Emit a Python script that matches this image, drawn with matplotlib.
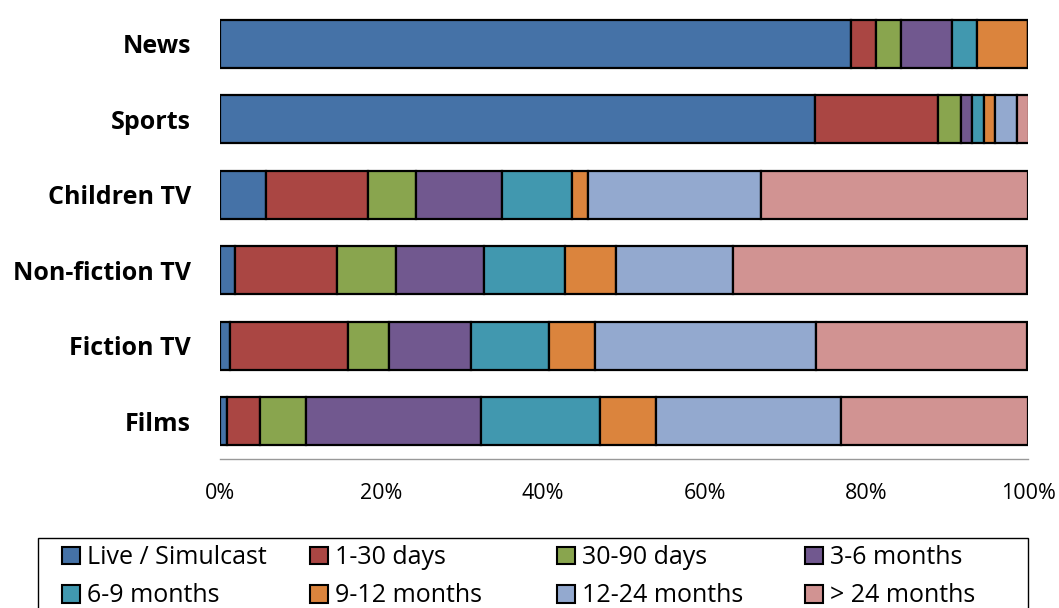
import numpy as np
import matplotlib
matplotlib.use("Agg")
import matplotlib.pyplot as plt
from matplotlib.patches import Patch, Rectangle

plt.rcParams['font.family'] = ['Open Sans', 'DejaVu Sans']

categories = ["News", "Sports", "Children TV", "Non-fiction TV", "Fiction TV", "Films"]

live = [78.1, 73.6, 5.7, 1.8, 1.2, 0.9]
d1_30 = [3.1, 15.3, 12.6, 12.7, 14.7, 4.1]
d30_90 = [3.1, 2.8, 5.9, 7.3, 5.0, 5.6]
m3_6 = [6.3, 1.4, 10.7, 10.9, 10.2, 21.7]
m6_9 = [3.1, 1.4, 8.7, 10.0, 9.6, 14.7]
m9_12 = [6.3, 1.4, 2.0, 6.3, 5.7, 7.0]
m12_24 = [0.0, 2.8, 21.4, 14.5, 27.4, 22.8]
m24 = [0.0, 1.4, 33.0, 36.4, 26.1, 23.2]

series = [live, d1_30, d30_90, m3_6, m6_9, m9_12, m12_24, m24]
labels = ["Live / Simulcast", "1-30 days", "30-90 days", "3-6 months",
          "6-9 months", "9-12 months", "12-24 months", "> 24 months"]
colors = ["#4572A7", "#AA4643", "#89A54E", "#71588F",
          "#4198AF", "#DB843D", "#93A9CF", "#D19392"]

W, H = 1059, 608
fig = plt.figure(figsize=(W / 100, H / 100), dpi=100)
ax = fig.add_axes([220 / W, 1 - 459 / H, 808 / W, 453 / H])

y = np.arange(len(categories))
left = np.zeros(len(categories))
for vals, c in zip(series, colors):
    ax.barh(y, vals, left=left, height=0.64, color=c,
            edgecolor="black", linewidth=1.6)
    left += np.array(vals)

for s in ["top", "right", "left"]:
    ax.spines[s].set_visible(False)
ax.spines["bottom"].set_color("#999999")
ax.spines["bottom"].set_linewidth(1.0)

ax.set_xlim(0, 100)
ax.set_ylim(len(categories) - 0.5, -0.5)
ax.set_yticks(y)
ax.set_yticklabels(categories, fontweight="bold")
ax.set_xticks(np.arange(0, 101, 20))
ax.set_xticklabels(["%d%%" % v for v in range(0, 101, 20)])
ax.tick_params(axis="y", length=0, pad=21, labelsize=18)
ax.tick_params(axis="x", length=0, pad=17, labelsize=15.5)

# legend frame
fig.patches.append(Rectangle((38 / W, -0.05), 990 / W, 1 - 538 / H + 0.05,
                             transform=fig.transFigure, fill=False,
                             edgecolor="black", linewidth=1.0))

col_x = [62, 310, 557, 805]
for k, x in enumerate(col_x):
    idx = [k, k + 4]
    handles = [Patch(facecolor=colors[i], edgecolor="black", linewidth=1.5) for i in idx]
    fig.legend(handles, [labels[i] for i in idx], loc="upper left",
               bbox_to_anchor=(x / W, 1 - 545 / H), frameon=False,
               borderpad=0, borderaxespad=0, fontsize=18,
               handlelength=0.7, handleheight=0.7, handletextpad=0.3,
               labelspacing=0.54)

fig.savefig("out.png", dpi=100)
